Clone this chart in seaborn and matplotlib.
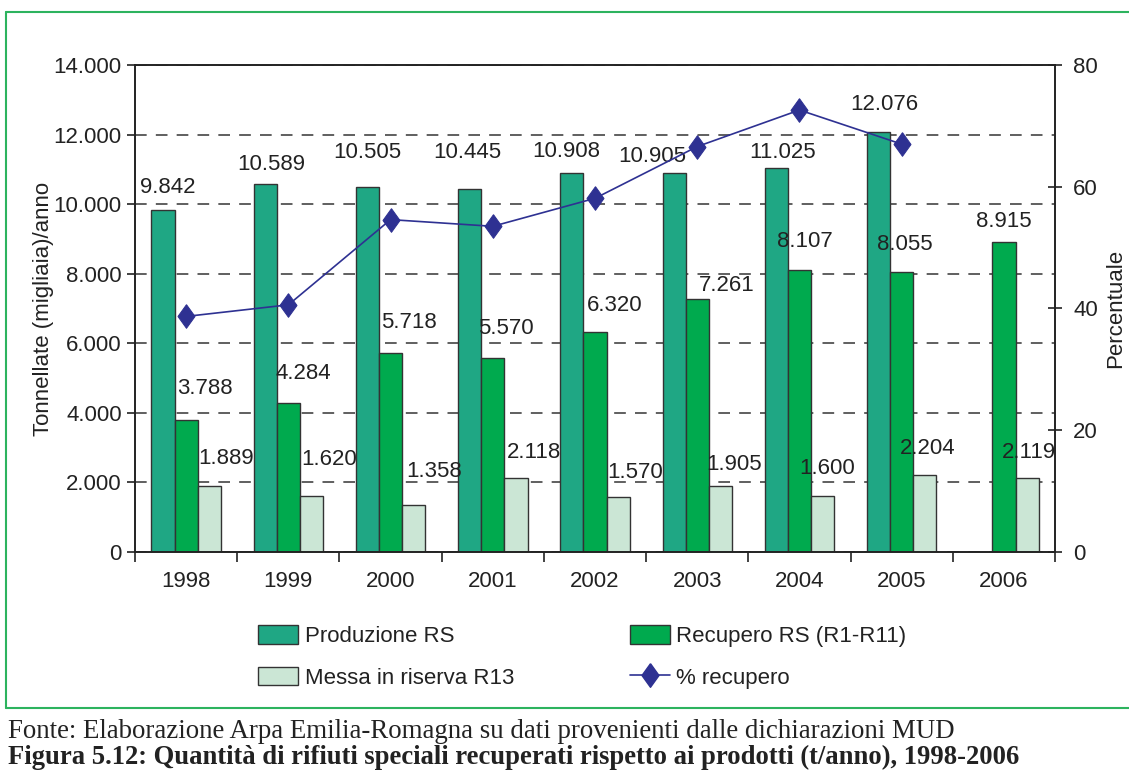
import numpy as np
import pandas as pd
import matplotlib.pyplot as plt
import matplotlib.ticker as mticker
from matplotlib.patches import Patch
from matplotlib.lines import Line2D
import seaborn as sns

# dati (t/anno, migliaia)
anni = ['1998', '1999', '2000', '2001', '2002', '2003', '2004', '2005', '2006']
produzione = [9842, 10589, 10505, 10445, 10908, 10905, 11025, 12076, np.nan]
recupero = [3788, 4284, 5718, 5570, 6320, 7261, 8107, 8055, 8915]
riserva = [1889, 1620, 1358, 2118, 1570, 1905, 1600, 2204, 2119]
perc_recupero = [38.7, 40.6, 54.6, 53.5, 58.1, 66.6, 72.6, 67.0]

serie = ['Produzione RS', 'Recupero RS (R1-R11)', 'Messa in riserva R13']
colori = ['#1fa784', '#00aa4e', '#cbe6d5']
blu = '#2e3192'

# spostamento delle etichette (px) rispetto alla cima della barra, come nell'originale
sposta_x = [[5, 6, 0, -2, -6, -22, 6, 6, 0],
            [19, 15, 18, 13, 20, 29, 5, 3, 0],
            [17, 18, 20, 18, 17, 14, 4, 3, 2]]
sposta_y = [[22, 19, 34, 36, 21, 16, 16, 27, 0],
            [32, 29, 31, 30, 27, 14, 28, 27, 20],
            [28, 36, 33, 26, 25, 21, 28, 27, 26]]

df = pd.DataFrame({
    'anno': anni * 3,
    'serie': np.repeat(serie, len(anni)),
    'valore': produzione + recupero + riserva,
})

sns.set_theme(style='white')
plt.rcParams['font.family'] = ['Liberation Sans', 'DejaVu Sans']

fig = plt.figure(figsize=(11.29, 7.82), dpi=100)
ax = fig.add_axes([0.1196, 0.2941, 0.8149, 0.6228])

sns.barplot(data=df, x='anno', y='valore', hue='serie', hue_order=serie,
            palette=colori, width=0.68, edgecolor='#333333', linewidth=1.0,
            saturation=1, ax=ax, legend=False)

# griglia tratteggiata
ax.set_ylim(0, 14000)
ax.yaxis.set_major_locator(mticker.MultipleLocator(2000))
ax.yaxis.set_major_formatter(mticker.FuncFormatter(
    lambda v, p: f'{v:,.0f}'.replace(',', '.')))
ax.grid(axis='y', color='#444444', linestyle=(0, (7, 5.5)), linewidth=1.2)
ax.set_axisbelow(True)
for s in ax.spines.values():
    s.set_color('#222222')
    s.set_linewidth(1.2)

# tick x tra le categorie
ax.set_xlim(-0.5, len(anni) - 0.5)
ax.set_xticks(np.arange(len(anni)))
ax.set_xticklabels(anni)
ax.xaxis.set_minor_locator(mticker.FixedLocator(np.arange(-0.5, len(anni), 1)))
ax.tick_params(axis='x', which='major', length=0, labelsize=16, pad=14, colors='#222222')
ax.tick_params(axis='x', which='minor', bottom=True, length=7, width=1.2, color='#222222', direction='out')
ax.tick_params(axis='y', left=True, length=6, width=1.2, labelsize=16, colors='#222222', direction='out')
ax.set_xlabel('')
ax.set_ylabel('Tonnellate (migliaia)/anno', fontsize=16, color='#222222', labelpad=0)

# etichette dei valori
for k, cont in enumerate(ax.containers):
    for bar in cont:
        h = bar.get_height()
        if np.isnan(h) or h == 0:
            continue
        xc = bar.get_x() + bar.get_width() / 2
        i = int(round(xc))
        ax.annotate(f'{h:,.0f}'.replace(',', '.'), (xc, h),
                    xytext=(sposta_x[k][i] * 0.72, sposta_y[k][i] * 0.72),
                    textcoords='offset points',
                    ha='center', va='center', fontsize=16, color='#222222')

# % recupero sull'asse destro
ax2 = ax.twinx()
diamante = [(0, 1), (0.72, 0), (0, -1), (-0.72, 0), (0, 1)]
sns.lineplot(x=np.arange(len(perc_recupero)), y=perc_recupero, ax=ax2,
             color=blu, linewidth=1.2, marker=diamante, markersize=17,
             markeredgecolor=blu, markerfacecolor=blu)
ax2.set_ylim(0, 80)
ax2.yaxis.set_major_locator(mticker.MultipleLocator(20))
ax2.tick_params(axis='y', right=True, length=10, width=1.2, labelsize=16,
                colors='#222222', direction='inout', pad=8)
ax2.set_ylabel('Percentuale', fontsize=16, color='#222222', labelpad=5)
for s in ax2.spines.values():
    s.set_color('#222222')
    s.set_linewidth(1.2)

# legenda
handles = [
    Patch(facecolor=colori[0], edgecolor='#333333', label=serie[0]),
    Patch(facecolor=colori[2], edgecolor='#333333', label=serie[2]),
    Patch(facecolor=colori[1], edgecolor='#333333', label=serie[1]),
    Line2D([0], [0], color=blu, linewidth=1.2, marker=diamante, markersize=17, label='% recupero'),
]
fig.legend(handles=handles, loc='center left', bbox_to_anchor=(247 / 1129, 1 - 657 / 782),
           ncol=2, frameon=False, fontsize=16, handlelength=1.8, handleheight=0.9,
           handletextpad=0.3, columnspacing=5.2, labelspacing=0.9, borderpad=0,
           labelcolor='#222222')

# cornice verde
verde = '#2db35e'
for xs, ys in [((6, 1129), (12, 12)), ((6, 6), (12, 708)), ((6, 1129), (708, 708))]:
    fig.add_artist(Line2D([x / 1129 for x in xs], [1 - y / 782 for y in ys],
                          color=verde, linewidth=1.5, transform=fig.transFigure))

# didascalia
fig.text(8 / 1129, 1 - 732 / 782, 'Fonte: Elaborazione Arpa Emilia-Romagna su dati provenienti dalle dichiarazioni MUD',
         family='Liberation Serif', fontsize=19.4, color='#222222', va='center', ha='left')
fig.text(8 / 1129, 1 - 757 / 782, 'Figura 5.12: Quantità di rifiuti speciali recuperati rispetto ai prodotti (t/anno), 1998-2006',
         family='Liberation Serif', fontweight='bold', fontsize=19.2, color='#222222', va='center', ha='left')

fig.savefig('out.png', dpi=100)
